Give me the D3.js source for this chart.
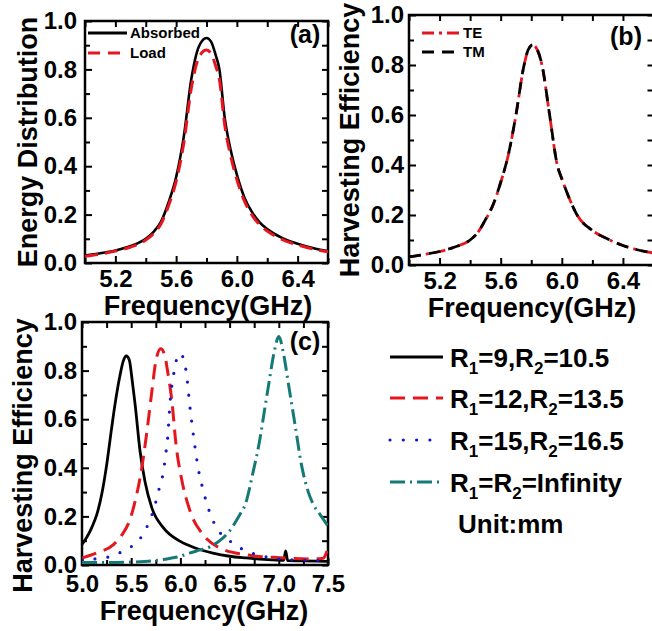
<!DOCTYPE html>
<html><head><meta charset="utf-8">
<script src="https://cdn.jsdelivr.net/npm/d3@7"></script>
<style>
body{margin:0;background:#fff;}
text{font-family:"Liberation Sans",Arial,sans-serif;font-weight:bold;}
</style></head>
<body><svg id="c" width="652" height="631"></svg>
<script>
// ---------- data ----------
const freqA = [5.00,5.10,5.20,5.30,5.40,5.45,5.50,5.55,5.60,5.65,5.70,5.75,5.80,5.83,5.86,5.885,5.92,5.96,6.00,6.05,6.10,6.15,6.20,6.30,6.40,6.50,6.60];
const absorbedA = [0.031,0.040,0.052,0.070,0.100,0.128,0.170,0.250,0.355,0.520,0.760,0.895,0.930,0.915,0.860,0.800,0.600,0.465,0.365,0.270,0.210,0.168,0.140,0.103,0.080,0.062,0.049];
const loadA = [0.028,0.037,0.049,0.066,0.095,0.121,0.161,0.237,0.337,0.494,0.722,0.850,0.880,0.866,0.815,0.758,0.570,0.440,0.345,0.256,0.198,0.158,0.132,0.097,0.075,0.058,0.046];

const freqB = [5.00,5.10,5.20,5.30,5.40,5.45,5.50,5.55,5.60,5.65,5.70,5.75,5.78,5.81,5.84,5.87,5.92,5.97,6.00,6.05,6.10,6.20,6.30,6.40,6.50,6.60];
const teB = [0.033,0.042,0.054,0.072,0.100,0.130,0.180,0.240,0.330,0.440,0.600,0.790,0.860,0.880,0.860,0.800,0.600,0.400,0.345,0.265,0.200,0.138,0.104,0.078,0.060,0.048];
const tmB = [0.033,0.042,0.054,0.072,0.100,0.130,0.181,0.241,0.331,0.441,0.601,0.791,0.861,0.881,0.861,0.801,0.601,0.401,0.345,0.265,0.200,0.138,0.104,0.078,0.060,0.048];

const freqC1 = [5.00,5.05,5.10,5.15,5.20,5.25,5.30,5.335,5.386,5.42,5.45,5.48,5.51,5.54,5.59,5.64,5.71,5.83,6.00,6.15,6.33,6.50,6.67,6.85,7.01,7.05,7.07,7.09,7.25,7.50];
const effC1 = [0.085,0.115,0.155,0.207,0.290,0.410,0.560,0.660,0.780,0.840,0.860,0.845,0.760,0.660,0.468,0.344,0.235,0.152,0.097,0.070,0.049,0.036,0.029,0.023,0.020,0.019,0.058,0.018,0.017,0.015];
const freqC2 = [5.00,5.15,5.32,5.40,5.49,5.55,5.59,5.66,5.71,5.75,5.80,5.84,5.87,5.91,5.96,6.01,6.10,6.23,6.40,6.67,7.01,7.35,7.45,7.50];
const effC2 = [0.029,0.050,0.084,0.120,0.190,0.280,0.358,0.550,0.715,0.838,0.890,0.865,0.797,0.687,0.480,0.358,0.220,0.125,0.070,0.042,0.030,0.025,0.028,0.070];
const freqC3 = [5.00,5.15,5.30,5.44,5.59,5.67,5.725,5.79,5.83,5.85,5.87,5.88,5.89,5.90,5.92,5.945,5.98,6.02,6.057,6.10,6.14,6.18,6.23,6.30,6.37,6.50,6.64,6.81,7.08,7.50];
const effC3 = [0.020,0.026,0.036,0.063,0.108,0.166,0.224,0.324,0.390,0.454,0.520,0.577,0.640,0.694,0.756,0.814,0.870,0.860,0.800,0.640,0.510,0.400,0.310,0.214,0.152,0.100,0.063,0.040,0.022,0.018];
const freqC4 = [5.00,5.25,5.50,5.75,5.90,6.00,6.10,6.20,6.30,6.40,6.50,6.60,6.66,6.74,6.80,6.86,6.90,6.95,7.00,7.05,7.10,7.165,7.23,7.30,7.35,7.42,7.50];
const effC4 = [0.010,0.010,0.012,0.018,0.028,0.036,0.050,0.062,0.075,0.100,0.140,0.205,0.250,0.385,0.500,0.650,0.750,0.870,0.940,0.865,0.740,0.577,0.413,0.300,0.250,0.207,0.160];

const yTicks = [0.0,0.2,0.4,0.6,0.8,1.0];
const yMinor = [0.1,0.3,0.5,0.7,0.9];
const xTicksAB = [5.2,5.6,6.0,6.4];
const xMinorAB = [5.0,5.4,5.8,6.2,6.6];
const xTicksC = [5.0,5.5,6.0,6.5,7.0,7.5];
const xMinorC = [5.25,5.75,6.25,6.75,7.25];

const legendA = ["Absorbed","Load"];
const legendB = ["TE","TM"];
const legendC = [["1","=9,R","2","=10.5"],["1","=12,R","2","=13.5"],["1","=15,R","2","=16.5"],["1","=R","2","=Infinity"]];

// ---------- drawing ----------
const svg = d3.select("#c");
const RED="#e5161d", BLUE="#1414c8", TEAL="#157a76";

function panel(o){
  const x = d3.scaleLinear().domain(o.xd).range([o.left,o.right]);
  const y = d3.scaleLinear().domain([0,1]).range([o.bottom,o.top]);
  const g = svg.append("g");
  const id = "clip"+o.name;
  svg.append("clipPath").attr("id",id).append("rect")
     .attr("x",o.left).attr("y",o.top).attr("width",o.right-o.left).attr("height",o.bottom-o.top);
  const styleAxis = sel => {
    sel.select(".domain").remove();
    sel.selectAll("line").attr("stroke","#000").attr("stroke-width",2);
    sel.selectAll("text").attr("fill","#000").style("font-size","24px").style("font-weight","bold");
  };
  const fmt = d3.format(".1f");
  g.append("g").attr("transform",`translate(0,${o.bottom})`)
    .call(d3.axisBottom(x).tickValues(o.xt).tickFormat(fmt).tickSizeInner(-7).tickSizeOuter(0).tickPadding(o.xpad)).call(styleAxis);
  g.append("g").attr("transform",`translate(0,${o.bottom})`)
    .call(d3.axisBottom(x).tickValues(o.xm).tickFormat("").tickSizeInner(-5).tickSizeOuter(0)).call(styleAxis);
  g.append("g").attr("transform",`translate(0,${o.top})`)
    .call(d3.axisTop(x).tickValues(o.xt.concat(o.xm)).tickFormat("").tickSizeInner(-6).tickSizeOuter(0)).call(styleAxis);
  g.append("g").attr("transform",`translate(${o.left},0)`)
    .call(d3.axisLeft(y).tickValues(yTicks).tickFormat(fmt).tickSizeInner(-7).tickSizeOuter(0).tickPadding(o.ypad)).call(styleAxis);
  g.append("g").attr("transform",`translate(${o.left},0)`)
    .call(d3.axisLeft(y).tickValues(yMinor).tickFormat("").tickSizeInner(-5).tickSizeOuter(0)).call(styleAxis);
  g.append("g").attr("transform",`translate(${o.right},0)`)
    .call(d3.axisRight(y).tickValues(yTicks.concat(yMinor)).tickFormat("").tickSizeInner(-6).tickSizeOuter(0)).call(styleAxis);
  g.append("rect").attr("x",o.left).attr("y",o.top).attr("width",o.right-o.left).attr("height",o.bottom-o.top)
    .attr("fill","none").attr("stroke","#000").attr("stroke-width",2.5);
  const line = d3.line().x(d=>x(d[0])).y(d=>y(d[1])).curve(d3.curveMonotoneX);
  const cg = g.append("g").attr("clip-path",`url(#${id})`);
  o.series.forEach(s=>{
    cg.append("path").datum(s.f.map((f,i)=>[f,s.v[i]]))
      .attr("d",line).attr("fill","none").attr("stroke",s.color).attr("stroke-width",s.w)
      .attr("stroke-dasharray",s.dash||null).attr("stroke-linecap",s.cap||"butt").attr("stroke-linejoin","round");
  });
  // axis titles
  g.append("text").attr("transform",`translate(${o.ylx},${(o.top+o.bottom)/2 + o.yly}) rotate(-90)`)
    .attr("text-anchor","middle").style("font-size","27px").text(o.ylabel);
  g.append("text").attr("x",o.xlx).attr("y",o.xly).attr("text-anchor","middle").style("font-size","27px").text("Frequency(GHz)");
  g.append("text").attr("x",o.tagx).attr("y",o.tagy).attr("text-anchor","middle").style("font-size","25px").text(o.tag);
  return {x,y,g};
}

const A = panel({name:"a",xd:[5.0,6.6],left:85,right:328,top:21,bottom:263,xt:xTicksAB,xm:xMinorAB,xpad:7,ypad:8,
  ylabel:"Energy Distribution",ylx:37,yly:0,xlx:208,xly:315,tag:"(a)",tagx:305,tagy:43,
  series:[{f:freqA,v:absorbedA,color:"#000",w:2.6},{f:freqA,v:loadA,color:RED,w:3,dash:"13 7"}]});
const B = panel({name:"b",xd:[5.0,6.6],left:409,right:653.5,top:15,bottom:265,xt:xTicksAB,xm:xMinorAB,xpad:7,ypad:5,
  ylabel:"Harvesting Efficiency",ylx:359,yly:0,xlx:532,xly:317,tag:"(b)",tagx:626,tagy:45,
  series:[{f:freqB,v:teB,color:RED,w:2.8,dash:"12 5 3 5"},{f:freqB,v:tmB,color:"#000",w:2.8,dash:"12 8"}]});
const C = panel({name:"c",xd:[5.0,7.5],left:82,right:328,top:322,bottom:565,xt:xTicksC,xm:xMinorC,xpad:10,ypad:5,
  ylabel:"Harvesting Efficiency",ylx:32,yly:12,xlx:204,xly:620,tag:"(c)",tagx:305,tagy:350,
  series:[{f:freqC1,v:effC1,color:"#000",w:2.8},
          {f:freqC2,v:effC2,color:RED,w:3,dash:"15 8"},
          {f:freqC3,v:effC3,color:BLUE,w:3.2,dash:"0 13",cap:"round"},
          {f:freqC4,v:effC4,color:TEAL,w:3,dash:"15 5 2 5"}]});

// legend a
const legA = [{c:"#000",d:null,y:33},{c:RED,d:"12 8",y:53}];
legA.forEach((l,i)=>{
  svg.append("line").attr("x1",88).attr("x2",127).attr("y1",l.y).attr("y2",l.y).attr("stroke",l.c).attr("stroke-width",2.8).attr("stroke-dasharray",l.d);
  svg.append("text").attr("x",130).attr("y",l.y).attr("dy","0.35em").style("font-size","15px").text(legendA[i]);
});
// legend b
const legB = [{c:RED,d:"12 5 3 5",y:33},{c:"#000",d:"12 8",y:52}];
legB.forEach((l,i)=>{
  svg.append("line").attr("x1",422).attr("x2",460).attr("y1",l.y).attr("y2",l.y).attr("stroke",l.c).attr("stroke-width",2.8).attr("stroke-dasharray",l.d);
  svg.append("text").attr("x",463).attr("y",l.y).attr("dy","0.35em").style("font-size","15px").text(legendB[i]);
});
// legend c
const legC = [{c:"#000",d:null,cap:"butt",w:2.8},{c:RED,d:"15 8",cap:"butt",w:3},{c:BLUE,d:"0 13.3",cap:"round",w:3.2},{c:TEAL,d:"15 5 2 5",cap:"butt",w:3}];
const rowBase = [367,408,450,492];
legC.forEach((l,i)=>{
  svg.append("line").attr("x1",390).attr("x2",443).attr("y1",rowBase[i]-10).attr("y2",rowBase[i]-10)
     .attr("stroke",l.c).attr("stroke-width",l.w).attr("stroke-dasharray",l.d).attr("stroke-linecap",l.cap);
  const t = svg.append("text").attr("x",450).attr("y",rowBase[i]).style("font-size","26px");
  const p = legendC[i];
  t.append("tspan").text("R");
  t.append("tspan").attr("dy",7).style("font-size","17px").text(p[0]);
  t.append("tspan").attr("dy",-7).text(p[1]);
  t.append("tspan").attr("dy",7).style("font-size","17px").text(p[2]);
  t.append("tspan").attr("dy",-7).text(p[3]);
});
svg.append("text").attr("x",458).attr("y",533).style("font-size","26px").text("Unit:mm");
</script></body></html>
